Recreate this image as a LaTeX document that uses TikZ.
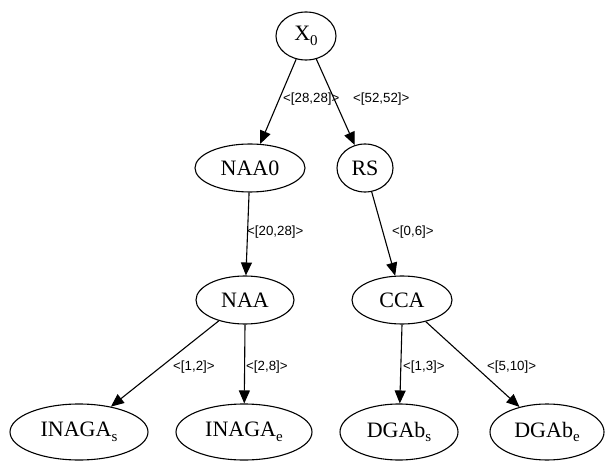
\documentclass[tikz,border=0pt]{standalone}
\usepackage{fontspec}
\setmainfont{Liberation Serif}
\newfontfamily\lblfont{Liberation Sans}
\usetikzlibrary{arrows.meta,shapes.geometric}

% lowered, smaller index after a node name
\newcommand{\idx}[1]{\raisebox{-0.45ex}{\fontsize{15bp}{15bp}\selectfont #1}}

\begin{document}
\begin{tikzpicture}[x=1bp,y=-1bp,
  state/.style={draw, ellipse, line width=1.1bp, inner sep=0pt,
                font=\fontsize{22bp}{24bp}\selectfont},
  edge/.style={draw, line width=1.1bp, -{Triangle[length=13bp,width=11bp]}},
  elabel/.style={anchor=west, inner sep=0pt, font=\lblfont\fontsize{13.3bp}{15bp}\selectfont}
]
\useasboundingbox (0,0) rectangle (606,465);

\node[state, minimum width=60bp,  minimum height=48bp] (x0)    at (306,36)  {X\idx{0}};
\node[state, minimum width=110bp, minimum height=48bp] (naa0)  at (250,168) {NAA0};
\node[state, minimum width=56bp,  minimum height=48bp] (rs)    at (365,168) {RS};
\node[state, minimum width=98bp,  minimum height=48bp] (naa)   at (245,300) {NAA};
\node[state, minimum width=100bp, minimum height=48bp] (cca)   at (402,300) {CCA};
\node[state, minimum width=138bp, minimum height=56bp] (inags) at (79,432)  {INAGA\idx{s}};
\node[state, minimum width=136bp, minimum height=56bp] (inage) at (244,432) {INAGA\idx{e}};
\node[state, minimum width=118bp, minimum height=56bp] (dgabs) at (399,432) {DGAb\idx{s}};
\node[state, minimum width=114bp, minimum height=56bp] (dgabe) at (547,432) {DGAb\idx{e}};

\path[edge] (x0) -- (naa0);
\path[edge] (x0) -- (rs);
\path[edge] (naa0) -- (naa);
\path[edge] (rs) -- (cca);
\path[edge] (naa) -- (inags);
\path[edge] (naa.south) -- (inage);
\path[edge] (cca.south) -- (dgabs);
\path[edge] (cca) -- (dgabe);

\node[elabel] (l1) at (283,99)  {<[28,28]>};
\node[elabel] (l2) at (353,99)  {<[52,52]>};
\node[elabel] (l3) at (247,232) {<[20,28]>};
\node[elabel] (l4) at (392,232) {<[0,6]>};
\node[elabel] (l5) at (173,367) {<[1,2]>};
\node[elabel] (l6) at (246,367) {<[2,8]>};
\node[elabel] (l7) at (403,367) {<[1,3]>};
\node[elabel] (l8) at (487,367) {<[5,10]>};
\end{tikzpicture}
\end{document}
